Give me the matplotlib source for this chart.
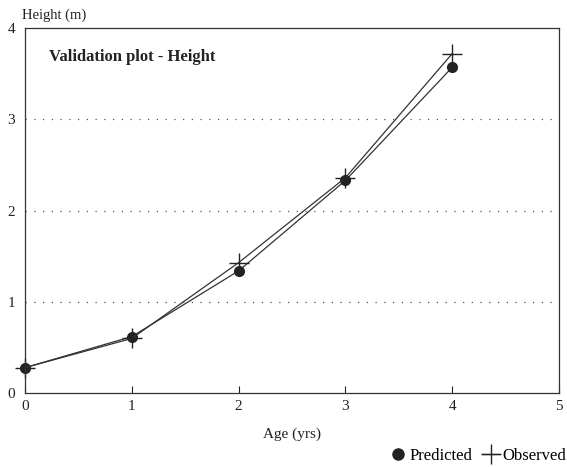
import matplotlib
matplotlib.use("Agg")
import matplotlib.pyplot as plt
from matplotlib.lines import Line2D

# data
age = [0, 1, 2, 3, 4]
predicted = [0.28, 0.62, 1.34, 2.33, 3.57]
observed = [0.28, 0.60, 1.43, 2.36, 3.72]

plt.rcParams['font.family'] = ['Liberation Serif', 'DejaVu Serif']

fig = plt.figure(figsize=(5.67, 4.67), dpi=100)
ax = fig.add_axes([0.044, 0.158, 0.942, 0.782])

ax.plot(age, predicted, color="#333333", lw=0.9, marker="o", ms=7,
        mfc="#222222", mec="#222222", clip_on=False)
ax.plot(age, observed, color="#333333", lw=0.9, marker="+", ms=14,
        mew=1.0, mec="#222222", clip_on=False)

ax.set_xlim(0, 5)
ax.set_ylim(0, 4)
ax.set_xticks([0, 1, 2, 3, 4, 5])
ax.set_yticks([0, 1, 2, 3, 4])
ax.tick_params(direction="in", length=5, width=0.8, labelsize=11, pad=5,
               colors="#222222")
ax.tick_params(axis="y", length=0, pad=7)
for s in ax.spines.values():
    s.set_color("#333333")
    s.set_linewidth(0.9)

for yv in [1, 2, 3]:
    ax.axhline(yv, color="#555555", lw=0.9, ls=(0, (1, 6)))

ax.text(0.045, 0.92, "Validation plot - Height", transform=ax.transAxes,
        fontsize=12, fontweight="bold", color="#222222", va="center")

fig.text(0.039, 0.968, "Height (m)", fontsize=10.5, color="#222222", va="center")
ax.set_xlabel("Age (yrs)", fontsize=11, color="#222222", labelpad=10)

handles = [Line2D([], [], color="#222222", marker="o", ls="none", ms=8),
           Line2D([], [], color="#222222", marker="+", ls="-", lw=0.9, ms=14, mew=1.0)]
fig.legend(handles, ["Predicted", "Observed"], loc="lower right",
           bbox_to_anchor=(1.025, -0.025), ncol=2, frameon=False, fontsize=12,
           handlelength=1.0, handletextpad=0.2, columnspacing=0.6)

fig.savefig("out.png", dpi=100)
